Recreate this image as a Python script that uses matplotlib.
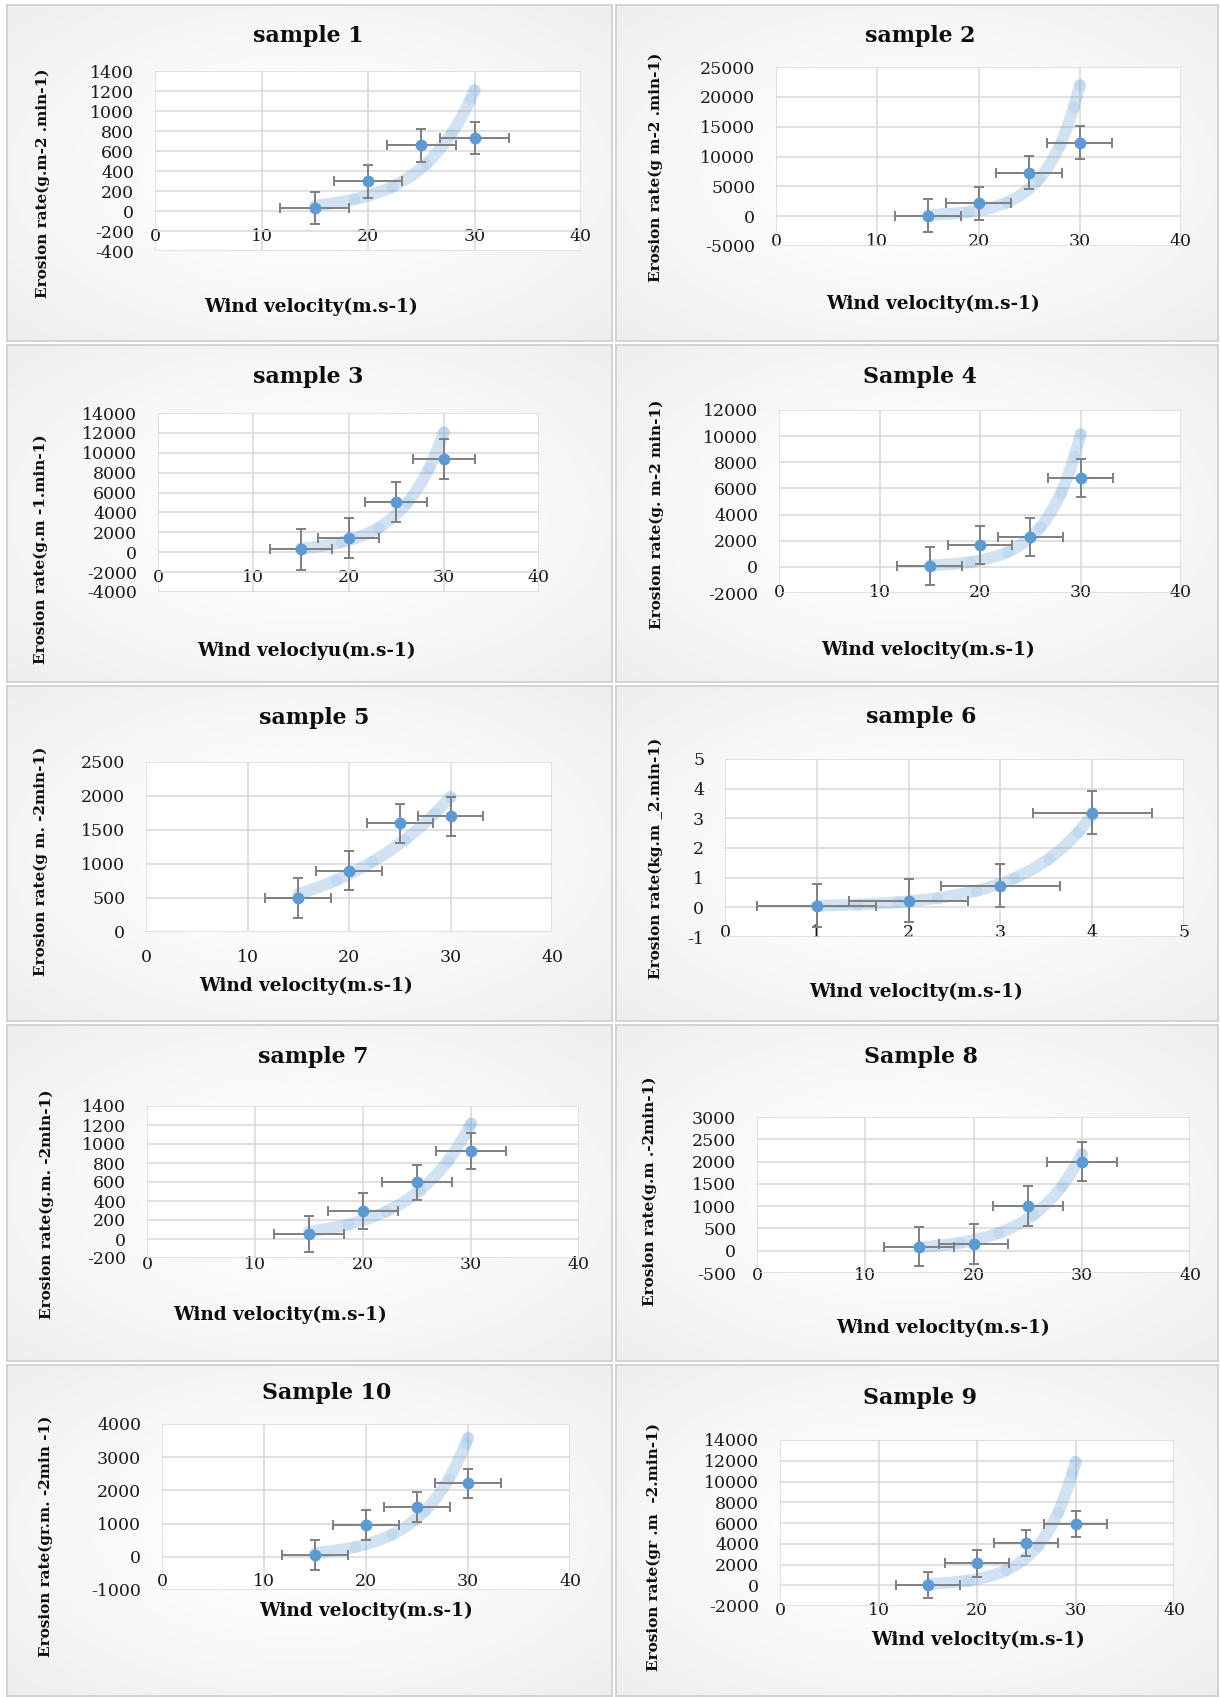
import numpy as np
import matplotlib.pyplot as plt

# canvas size in pixels (dpi 100)
W, H = 1220, 1697

# wind velocity (x values) and their error bar half-widths
wind = [15, 20, 25, 30]
wind_s6 = [1, 2, 3, 4]

titles = ['sample 1', 'sample 2', 'sample 3', 'Sample 4', 'sample 5',
          'sample 6', 'sample 7', 'Sample 8', 'Sample 10', 'Sample 9']
ylabels = ['Erosion rate(g.m-2 .min-1)', 'Erosion rate(g m-2 .min-1)',
           'Erosion rate(g.m -1.min-1)', 'Erosion rate(g. m-2 min-1)',
           'Erosion rate(g m. -2min-1)', 'Erosion rate(kg.m _2.min-1)',
           'Erosion rate(g.m. -2min-1)', 'Erosion rate(g.m .-2min-1)',
           'Erosion rate(gr.m. -2min -1)', 'Erosion rate(gr .m  -2.min-1)']
xlabels = ['Wind velocity(m.s-1)', 'Wind velocity(m.s-1)', 'Wind velociyu(m.s-1)',
           'Wind velocity(m.s-1)', 'Wind velocity(m.s-1)', 'Wind velocity(m.s-1)',
           'Wind velocity(m.s-1)', 'Wind velocity(m.s-1)', 'Wind velocity(m.s-1)',
           'Wind velocity(m.s-1)']

# erosion rates
rate_s1 = [30, 296, 656, 730]
rate_s2 = [100, 2150, 7300, 12330]
rate_s3 = [300, 1430, 5050, 9380]
rate_s4 = [50, 1650, 2270, 6800]
rate_s5 = [500, 900, 1600, 1700]
rate_s6 = [0.05, 0.23, 0.73, 3.19]
rate_s7 = [56, 296, 596, 928]
rate_s8 = [92, 158, 995, 2000]
rate_s10 = [60, 965, 1505, 2208]
rate_s9 = [50, 2100, 4083, 5900]

rates = [rate_s1, rate_s2, rate_s3, rate_s4, rate_s5,
         rate_s6, rate_s7, rate_s8, rate_s10, rate_s9]
xs = [wind] * 5 + [wind_s6] + [wind] * 4
rate_err = [164, 2730, 2045, 1440, 287, 0.72, 188, 446, 450, 1265]
wind_err = [3.23] * 5 + [0.65] + [3.23] * 4

# y axis (min, max, step) and x axis max / step
y_axes = [(-400, 1400, 200), (-5000, 25000, 5000), (-4000, 14000, 2000),
          (-2000, 12000, 2000), (0, 2500, 500), (-1, 5, 1), (-200, 1400, 200),
          (-500, 3000, 500), (-1000, 4000, 1000), (-2000, 14000, 2000)]
x_axes = [(40, 10)] * 5 + [(5, 1)] + [(40, 10)] * 4

# layout in pixels: panel box, plot area, title / xlabel / ylabel anchors
cols = [(7, 612), (616, 1218)]
rows = [(5, 341), (345, 682), (686, 1021), (1025, 1361), (1365, 1696)]
plot_px = [(155, 581, 71, 251), (776, 1181, 67, 246),
           (158, 539, 413, 592), (779, 1181, 410, 593),
           (146, 552, 762, 932), (725, 1184, 759, 937),
           (147, 579, 1106, 1258), (757, 1190, 1117, 1273),
           (162, 570, 1424, 1590), (780, 1174, 1440, 1606)]
title_px = [(308, 36), (920, 36), (308, 377), (920, 377), (314, 718),
            (921, 717), (313, 1057), (921, 1057), (327, 1393), (920, 1398)]
xlabel_px = [(311, 307), (933, 304), (306, 651), (928, 650), (306, 986),
             (916, 992), (280, 1315), (943, 1328), (366, 1611), (978, 1640)]
ylabel_px = [(43, 183), (656, 167), (41, 549), (657, 514), (41, 861),
             (656, 858), (47, 1204), (650, 1191), (46, 1536), (654, 1547)]

BLUE = '#5b9bd5'

plt.rcParams['font.family'] = ['DejaVu Serif']
plt.rcParams['axes.unicode_minus'] = False

fig = plt.figure(figsize=(W / 100, H / 100), dpi=100)
fig.patch.set_facecolor('white')


def frac_rect(x0, x1, y0, y1):
    return [x0 / W, 1 - y1 / H, (x1 - x0) / W, (y1 - y0) / H]


# radial grey gradient used as chart background
gy, gx = np.mgrid[-1:1:200j, -1:1:200j]
grad = np.clip(np.hypot(gx, gy) / np.sqrt(2), 0, 1) ** 1.4

for i in range(10):
    c0, c1 = cols[i % 2]
    r0, r1 = rows[i // 2]
    bg = fig.add_axes(frac_rect(c0, c1, r0, r1))
    bg.imshow(1 - 0.07 * grad, cmap='gray', vmin=0, vmax=1, aspect='auto',
              extent=(0, 1, 0, 1), interpolation='bilinear')
    bg.set_xticks([])
    bg.set_yticks([])
    for sp in bg.spines.values():
        sp.set_color('#d0d0d0')
        sp.set_linewidth(1.3)

    x0, x1, y0, y1 = plot_px[i]
    ax = fig.add_axes(frac_rect(x0, x1, y0, y1))
    ax.set_facecolor('white')
    ymin, ymax, ystep = y_axes[i]
    xmax, xstep = x_axes[i]
    ax.set_xlim(0, xmax)
    ax.set_ylim(ymin, ymax)
    ax.set_xticks(np.arange(0, xmax + xstep / 2, xstep))
    ax.set_yticks(np.arange(ymin, ymax + ystep / 2, ystep))
    ax.grid(True, color='#d9d9d9', linewidth=1.1)
    ax.set_axisbelow(True)
    for sp in ax.spines.values():
        sp.set_visible(False)
    ax.spines['bottom'].set_position(('data', 0))
    ax.tick_params(length=0, labelsize=12.5, colors='#1a1a1a')
    ax.tick_params(axis='y', pad=15)
    ax.tick_params(axis='x', pad=12)

    x = np.array(xs[i], dtype=float)
    y = np.array(rates[i], dtype=float)

    # exponential trendline (least squares on log y)
    b, a = np.polyfit(x, np.log(y), 1)
    tx = np.linspace(x[0], x[-1], 400)
    ty = np.exp(a + b * tx)
    ax.plot(tx, ty, color=BLUE, alpha=0.28, linewidth=8.5,
            solid_capstyle='round', zorder=2)
    pts = ax.transData.transform(np.column_stack([tx, ty]))
    arc = np.concatenate([[0], np.cumsum(np.hypot(*np.diff(pts, axis=0).T))])
    idx = np.searchsorted(arc, np.arange(40, arc[-1], 40))
    idx = np.append(idx, len(tx) - 1)
    ax.plot(tx[idx], ty[idx], 'o', color=BLUE, alpha=0.12, markersize=8.5,
            markeredgewidth=0, zorder=2)

    ax.errorbar(x, y, xerr=wind_err[i], yerr=rate_err[i], fmt='none',
                ecolor='#7f7f7f', elinewidth=1.4, capsize=3.8, capthick=1.4,
                zorder=3)
    ax.plot(x, y, 'o', color=BLUE, markersize=8.5, markeredgewidth=0, zorder=4)

    tx_, ty_ = title_px[i]
    fig.text(tx_ / W, 1 - ty_ / H, titles[i], ha='center', va='center',
             fontsize=15.8, fontweight='bold', color='#0d0d0d')
    lx, ly = xlabel_px[i]
    fig.text(lx / W, 1 - ly / H, xlabels[i], ha='center', va='center',
             fontsize=13.3, fontweight='bold', color='#0d0d0d')
    vx, vy = ylabel_px[i]
    fig.text(vx / W, 1 - vy / H, ylabels[i], ha='center', va='center',
             rotation=90, fontsize=11, fontweight='bold', color='#0d0d0d')

fig.savefig('out.png', dpi=100, facecolor='white')
